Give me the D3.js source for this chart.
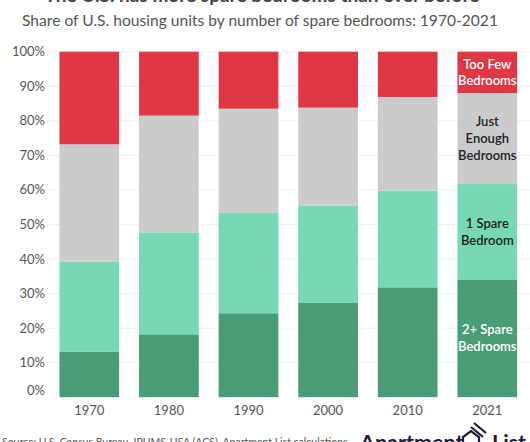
<!DOCTYPE html>
<html><head><meta charset="utf-8">
<script src="https://cdn.jsdelivr.net/npm/d3@7"></script>
<style>body{margin:0;background:#fff}svg{display:block}</style>
</head><body>
<svg id="c" width="530" height="442"></svg>
<script>
const years = ["1970","1980","1990","2000","2010","2021"];
const twoPlusSpare = [13.2, 18.2, 24.3, 27.4, 31.8, 34.1];
const oneSpare     = [26.0, 29.5, 29.0, 28.0, 28.0, 27.6];
const justEnough   = [34.0, 33.8, 30.2, 28.4, 27.1, 26.3];
const tooFew       = [26.8, 18.5, 16.5, 16.2, 13.1, 12.0];
const seriesNames  = ["2+ Spare Bedrooms","1 Spare Bedroom","Just Enough Bedrooms","Too Few Bedrooms"];
const seriesLabels = [["2+ Spare","Bedrooms"],["1 Spare","Bedroom"],["Just","Enough","Bedrooms"],["Too Few","Bedrooms"]];
const colors = ["#489c78","#76d9b3","#cbcbcb","#df3744"];
const labelColors = ["#ffffff","#222222","#222222","#ffffff"];
const yTicks = [0,10,20,30,40,50,60,70,80,90,100];

const svg = d3.select("#c");
const font = "Lato, 'Open Sans', sans-serif";
const x = d3.scaleBand().domain(years).range([49.5, 527.1]).paddingInner(0.25).paddingOuter(0.125);
const y = d3.scaleLinear().domain([0,100]).range([397.2, 51.7]);

// gridlines
svg.append("g").selectAll("line").data(yTicks.filter(d=>d>0)).join("line")
  .attr("x1",47).attr("x2",530).attr("y1",d=>y(d)).attr("y2",d=>y(d))
  .attr("stroke","#efefef").attr("stroke-width",1);

const rows = years.map((yr,i)=>({year:yr, s0:twoPlusSpare[i], s1:oneSpare[i], s2:justEnough[i], s3:tooFew[i]}));
const stack = d3.stack().keys(["s0","s1","s2","s3"])(rows);

svg.append("g").selectAll("g").data(stack).join("g")
  .attr("fill",(d,i)=>colors[i])
  .selectAll("rect").data(d=>d).join("rect")
  .attr("x",d=>x(d.data.year)).attr("width",x.bandwidth())
  .attr("y",d=>y(Math.min(100,d[1]))).attr("height",d=>y(d[0])-y(Math.min(100,d[1])));

// labels in last bar
const last = years.length-1;
stack.forEach((s,i)=>{
  const seg = s[last];
  const mid = (y(seg[0]) + y(Math.min(100,seg[1])))/2;
  const lines = seriesLabels[i];
  const lh = 16.6;
  const t = svg.append("text").attr("text-anchor","middle")
    .attr("font-family",font).attr("font-size",13).attr("font-weight",600)
    .attr("fill",labelColors[i]);
  lines.forEach((ln,j)=>{
    t.append("tspan").attr("x",x(years[last])+x.bandwidth()/2)
     .attr("y",mid + (j-(lines.length-1)/2)*lh + 4.5).text(ln);
  });
});

// y axis labels
svg.append("g").selectAll("text").data(yTicks).join("text")
  .attr("x",45).attr("y",d=>d===0? y(d)-7+4.5 : y(d)+4.5)
  .attr("text-anchor","end").attr("font-family",font).attr("font-size",13)
  .attr("fill","#555").text(d=>d+"%");

// x axis labels
svg.append("g").selectAll("text").data(years).join("text")
  .attr("x",d=>x(d)+x.bandwidth()/2).attr("y",415)
  .attr("text-anchor","middle").attr("font-family",font).attr("font-size",13)
  .attr("fill","#555").text(d=>d);

// title (cropped at top)
svg.append("text").attr("x",262).attr("y",1.5).attr("text-anchor","middle")
  .attr("font-family",font).attr("font-size",19).attr("font-weight",700).attr("fill","#444")
  .text("The U.S. has more spare bedrooms than ever before");
svg.append("text").attr("x",260).attr("y",26).attr("text-anchor","middle")
  .attr("font-family",font).attr("font-size",15.6).attr("fill","#555")
  .text("Share of U.S. housing units by number of spare bedrooms: 1970-2021");

// footer (cropped at bottom)
svg.append("text").attr("x",2).attr("y",446).attr("font-family",font).attr("font-size",10.5)
  .attr("fill","#555").text("Source: U.S. Census Bureau, IPUMS-USA (ACS), Apartment List calculations");
svg.append("text").attr("x",360).attr("y",450).attr("font-family",font).attr("font-size",21.5)
  .attr("font-weight",700).attr("fill","#1e1a3c").text("Apartment");
svg.append("text").attr("x",492).attr("y",450).attr("font-family",font).attr("font-size",21.5)
  .attr("font-weight",700).attr("fill","#1e1a3c").text("List");
const ic = svg.append("g").attr("stroke","#1e1a3c").attr("stroke-width",2.2).attr("fill","none");
ic.append("path").attr("d","M463,446 L463,437 L471,431 L479,437 L479,446");
ic.append("path").attr("d","M471,427 L483,437");
ic.append("path").attr("d","M474,423 L486,433");
</script>
</body></html>
